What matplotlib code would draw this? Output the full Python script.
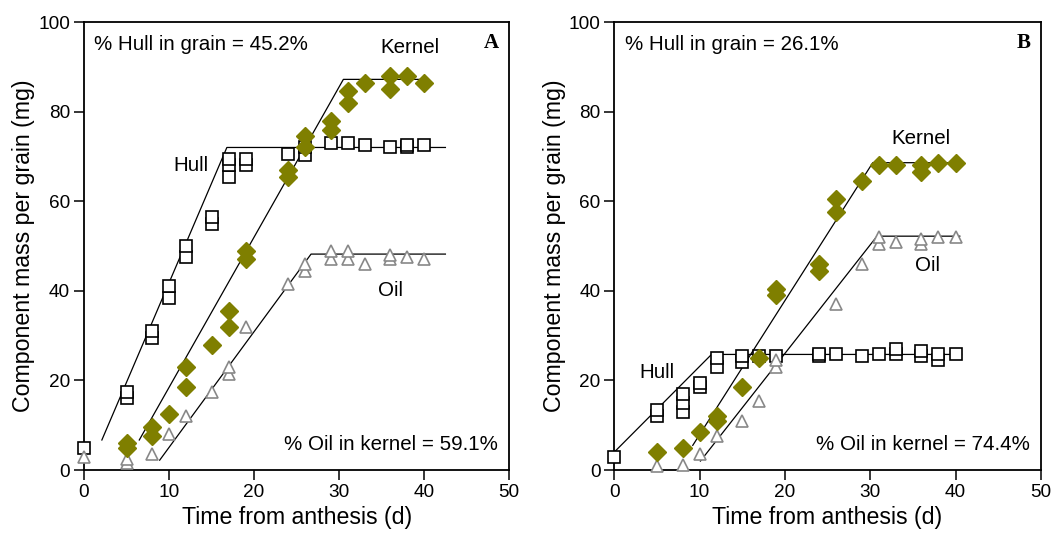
import numpy as np
import matplotlib
matplotlib.use('Agg')
import matplotlib.pyplot as plt

plt.rcParams['font.family'] = ['Liberation Sans', 'DejaVu Sans']

# panel A: replicate samples (days after anthesis, mg per grain)
hull_a_t = [0, 5, 5, 8, 8, 10, 10, 12, 12, 15, 15, 17, 17, 17, 19, 19, 24, 26, 26, 29, 31, 33, 36, 38, 38, 40]
hull_a = [5, 16, 17.5, 29.5, 31, 38.5, 41, 47.5, 50, 55, 56.5, 65.5, 68, 69.5, 68, 69.5, 70.5, 70.3, 72, 73, 73, 72.5, 72, 72, 72.5, 72.5]
kernel_a_t = [5, 5, 8, 8, 10, 12, 12, 15, 17, 17, 19, 19, 24, 24, 26, 26, 29, 29, 31, 31, 33, 36, 36, 38, 40]
kernel_a = [5, 6, 7.5, 9.5, 12.5, 18.5, 23, 28, 32, 35.5, 47, 49, 65.5, 67, 72, 74.5, 76, 78, 82, 84.5, 86.5, 85, 88, 88, 86.5]
oil_a_t = [0, 5, 5, 8, 10, 12, 15, 17, 17, 19, 24, 26, 26, 29, 29, 31, 31, 33, 36, 36, 38, 40]
oil_a = [3, 1.5, 2.5, 3.5, 8, 12, 17.5, 21.5, 23, 32, 41.5, 44.5, 46, 47, 49, 47, 49, 46, 47, 48, 47.5, 47]

# panel B
hull_b_t = [0, 5, 5, 8, 8, 8, 10, 10, 12, 12, 15, 15, 17, 19, 24, 24, 26, 29, 31, 33, 33, 36, 36, 38, 38, 40]
hull_b = [3, 12, 13.5, 13, 15, 17, 18.5, 19.5, 23, 25, 24, 25.5, 25.5, 25.5, 25.5, 26, 26, 25.5, 26, 26, 27, 25.5, 26.5, 24.5, 26, 26]
kernel_b_t = [5, 8, 10, 12, 12, 15, 17, 19, 19, 24, 24, 26, 26, 29, 31, 33, 36, 36, 38, 40]
kernel_b = [4, 5, 8.5, 11, 12, 18.5, 25, 39, 40.5, 44.5, 46, 57.5, 60.5, 64.5, 68, 68, 66.5, 68, 68.5, 68.5]
oil_b_t = [5, 8, 10, 12, 15, 17, 19, 19, 26, 29, 31, 31, 33, 36, 36, 38, 40]
oil_b = [0.8, 1.2, 3.5, 7.5, 11, 15.5, 23, 24.5, 37, 46, 50.5, 52, 51, 50.5, 51.5, 52, 52]

# fitted linear-plateau lines (knots)
fit_hull_a_t, fit_hull_a = [2.1, 16.8, 42.5], [6.7, 72, 72]
fit_kernel_a_t, fit_kernel_a = [6.5, 30.5, 40], [6.7, 87.2, 87.2]
fit_oil_a_t, fit_oil_a = [8.9, 26.7, 42.5], [2.2, 48.2, 48.2]
fit_hull_b_t, fit_hull_b = [0, 11.4, 40.7], [4, 25.8, 25.8]
fit_kernel_b_t, fit_kernel_b = [9.2, 30.3, 40.5], [5.5, 68.6, 68.6]
fit_oil_b_t, fit_oil_b = [10.1, 30.8, 40.5], [2.0, 52.2, 52.2]

OLIVE = '#7f7f00'


def draw_panel(ax, hull, kernel, oil, fits, letter):
    for ft, fv in fits:
        ax.plot(ft, fv, color='black', lw=0.9, zorder=2)
    ax.plot(hull[0], hull[1], 's', ms=8, mfc='white', mec='black', mew=1.2, ls='none', zorder=3, clip_on=False)
    ax.plot(oil[0], oil[1], '^', ms=8.5, mfc='white', mec='#888888', mew=1.2, ls='none', zorder=4, clip_on=False)
    ax.plot(kernel[0], kernel[1], 'D', ms=9.5, mfc=OLIVE, mec=OLIVE, ls='none', zorder=5, clip_on=False)
    ax.set_xlim(0, 50)
    ax.set_ylim(0, 100)
    ax.set_xticks(np.arange(0, 51, 10))
    ax.set_yticks(np.arange(0, 101, 20))
    ax.tick_params(direction='out', length=7, width=1.1, labelsize=13.7, pad=3)
    for sp in ax.spines.values():
        sp.set_linewidth(1.3)
    ax.set_xlabel('Time from anthesis (d)', fontsize=16.7, labelpad=4)
    ax.set_ylabel('Component mass per grain (mg)', fontsize=16.7, labelpad=2)
    ax.text(0.976, 0.953, letter, transform=ax.transAxes, ha='right', va='center',
            fontsize=15, fontweight='bold', family='Liberation Serif')


fig = plt.figure(figsize=(10.54, 5.51), dpi=100)
ax1 = fig.add_axes([0.0797, 0.147, 0.4034, 0.813])
ax2 = fig.add_axes([0.5828, 0.147, 0.4047, 0.813])

draw_panel(ax1, (hull_a_t, hull_a), (kernel_a_t, kernel_a), (oil_a_t, oil_a),
           [(fit_hull_a_t, fit_hull_a), (fit_kernel_a_t, fit_kernel_a), (fit_oil_a_t, fit_oil_a)], 'A')
draw_panel(ax2, (hull_b_t, hull_b), (kernel_b_t, kernel_b), (oil_b_t, oil_b),
           [(fit_hull_b_t, fit_hull_b), (fit_kernel_b_t, fit_kernel_b), (fit_oil_b_t, fit_oil_b)], 'B')

fs = 14.8
ax1.text(1.2, 94.9, '% Hull in grain = 45.2%', fontsize=fs, va='center')
ax1.text(34.8, 94.4, 'Kernel', fontsize=fs, va='center')
ax1.text(10.5, 68, 'Hull', fontsize=fs, va='center')
ax1.text(34.6, 40, 'Oil', fontsize=fs, va='center')
ax1.text(48.7, 5.6, '% Oil in kernel = 59.1%', fontsize=fs, va='center', ha='right')

ax2.text(1.25, 94.9, '% Hull in grain = 26.1%', fontsize=fs, va='center')
ax2.text(32.5, 73.9, 'Kernel', fontsize=fs, va='center')
ax2.text(35.3, 45.6, 'Oil', fontsize=fs, va='center')
ax2.text(3.0, 21.7, 'Hull', fontsize=fs, va='center')
ax2.text(48.7, 5.6, '% Oil in kernel = 74.4%', fontsize=fs, va='center', ha='right')

fig.savefig('out.png', dpi=100)
